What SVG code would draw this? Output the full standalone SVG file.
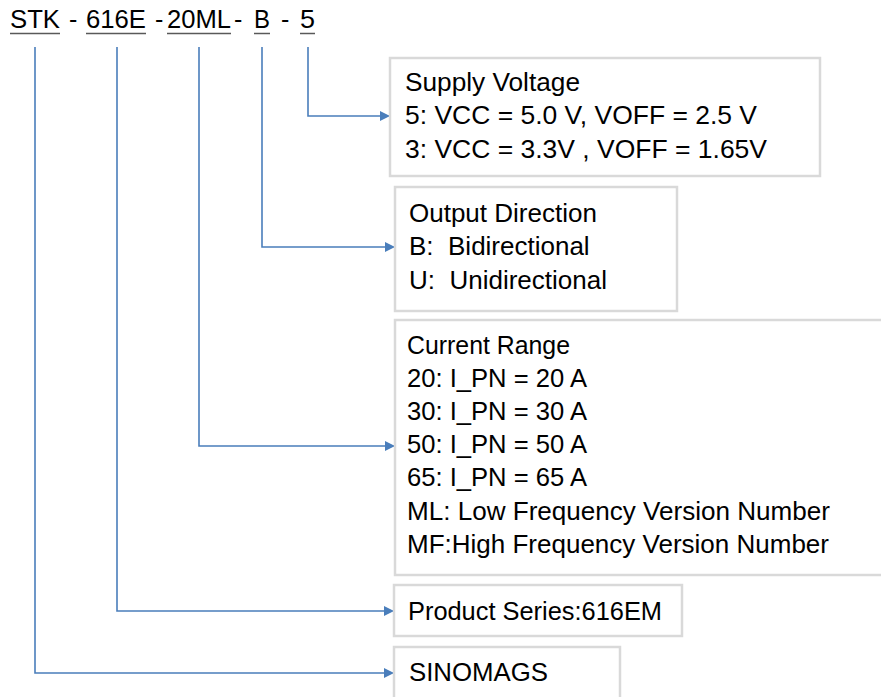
<svg xmlns="http://www.w3.org/2000/svg" width="881" height="697" viewBox="0 0 881 697">
<defs>
<marker id="ah" viewBox="0 0 10 10" refX="10" refY="5" markerWidth="11" markerHeight="10" markerUnits="userSpaceOnUse" orient="auto">
<path d="M0,0 L10,5 L0,10 Z" fill="#4a7ebb"/>
</marker>
<style>
text{font-family:"Liberation Sans",Arial,sans-serif;font-size:26px;fill:#000}
.cr{font-size:25px}
.hd{font-size:25px}
.box{fill:#fff;stroke:#d9d9d9;stroke-width:2.5}
.ul{stroke:#595959;stroke-width:1.5}
.conn{fill:none;stroke:#4a7ebb;stroke-width:1.6}
</style>
</defs>
<rect width="881" height="697" fill="#fff"/>
<g id="header" class="hd">
<text class="hd" x="10" y="28" textLength="50" lengthAdjust="spacingAndGlyphs">STK</text>
<text class="hd" x="69" y="28">-</text>
<text class="hd" x="86" y="28" textLength="60" lengthAdjust="spacingAndGlyphs">616E</text>
<text class="hd" x="155" y="28">-</text>
<text class="hd" x="167" y="28" textLength="64" lengthAdjust="spacingAndGlyphs">20ML</text>
<text class="hd" x="234" y="28">-</text>
<text class="hd" x="254" y="28" textLength="16" lengthAdjust="spacingAndGlyphs">B</text>
<text class="hd" x="281" y="28">-</text>
<text class="hd" x="300" y="28" textLength="15" lengthAdjust="spacingAndGlyphs">5</text>
<line class="ul" x1="10" y1="33.5" x2="60" y2="33.5"/>
<line class="ul" x1="86" y1="33.5" x2="146" y2="33.5"/>
<line class="ul" x1="167" y1="33.5" x2="231" y2="33.5"/>
<line class="ul" x1="254" y1="33.5" x2="270" y2="33.5"/>
<line class="ul" x1="300" y1="33.5" x2="315" y2="33.5"/>
</g>
<g id="connectors">
<path class="conn" d="M308,47 V116 H390" marker-end="url(#ah)"/>
<path class="conn" d="M262,47 V247 H395" marker-end="url(#ah)"/>
<path class="conn" d="M199,47 V446 H395" marker-end="url(#ah)"/>
<path class="conn" d="M117,47 V611 H394" marker-end="url(#ah)"/>
<path class="conn" d="M35,47 V673 H394" marker-end="url(#ah)"/>
</g>
<g id="supply">
<rect class="box" x="390" y="58" width="430" height="118"/>
<text x="405" y="91" textLength="175" lengthAdjust="spacingAndGlyphs">Supply Voltage</text>
<text x="405" y="124" textLength="352" lengthAdjust="spacingAndGlyphs">5: VCC = 5.0 V, VOFF = 2.5 V</text>
<text x="405" y="158" textLength="362" lengthAdjust="spacingAndGlyphs">3: VCC = 3.3V , VOFF = 1.65V</text>
</g>
<g id="output">
<rect class="box" x="395" y="187" width="282" height="124"/>
<text x="409" y="222">Output Direction</text>
<text x="409" y="255" xml:space="preserve">B:  Bidirectional</text>
<text x="409" y="289" xml:space="preserve">U:  Unidirectional</text>
</g>
<g id="current">
<rect class="box" x="395" y="320" width="500" height="255"/>
<text class="cr" x="407" y="354" textLength="163" lengthAdjust="spacingAndGlyphs">Current Range</text>
<text class="cr" x="407" y="387" textLength="180" lengthAdjust="spacingAndGlyphs">20: I_PN = 20 A</text>
<text class="cr" x="407" y="420" textLength="180" lengthAdjust="spacingAndGlyphs">30: I_PN = 30 A</text>
<text class="cr" x="407" y="453" textLength="180" lengthAdjust="spacingAndGlyphs">50: I_PN = 50 A</text>
<text class="cr" x="407" y="486" textLength="180" lengthAdjust="spacingAndGlyphs">65: I_PN = 65 A</text>
<text class="cr" x="407" y="520" textLength="423" lengthAdjust="spacingAndGlyphs">ML: Low Frequency Version Number</text>
<text class="cr" x="407" y="553" textLength="422" lengthAdjust="spacingAndGlyphs">MF:High Frequency Version Number</text>
</g>
<g id="product">
<rect class="box" x="394" y="585" width="288" height="51"/>
<text x="408" y="620" textLength="254" lengthAdjust="spacingAndGlyphs">Product Series:616EM</text>
</g>
<g id="sinomags">
<rect class="box" x="394" y="647" width="226" height="60"/>
<text x="409" y="681" textLength="139" lengthAdjust="spacingAndGlyphs">SINOMAGS</text>
</g>
</svg>
